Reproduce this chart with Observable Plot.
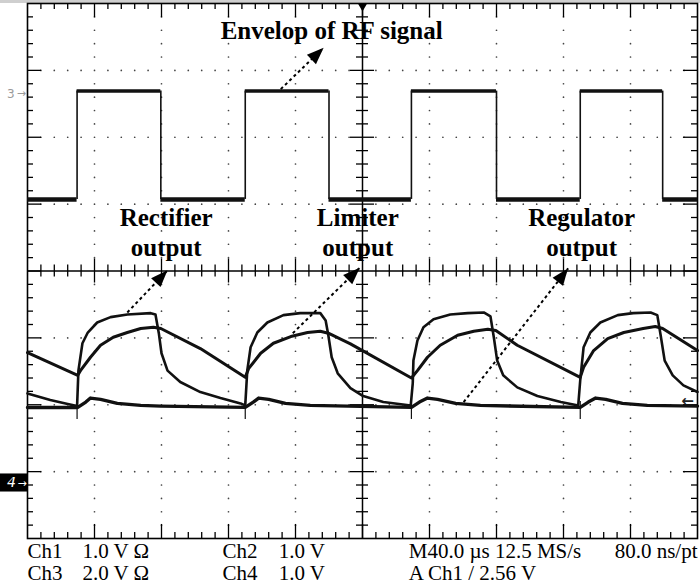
<!DOCTYPE html>
<html>
<head>
<meta charset="utf-8">
<script src="https://cdn.jsdelivr.net/npm/d3@7"></script>
<script src="https://cdn.jsdelivr.net/npm/@observablehq/plot@0.6"></script>
<style>
  html, body { margin: 0; padding: 0; background: #fff; }
  #chart { width: 700px; height: 584px; overflow: hidden; }
  #chart svg { display: block; background: #fff; }
</style>
</head>
<body>
<div id="chart"></div>
<script>
// ---------------- DATA (time in 40 µs divisions, amplitude in vertical divisions) ----------------
// Envelope of RF signal (square wave)
const envelopeLevels = [1.07, 2.69];               // low, high
const envelopeRise = [0.74, 3.25, 5.73, 8.25];
const envelopeFall = [1.99, 4.50, 7.00, 9.48];

// Rectifier output [t, v]
const rectifier = [
  [0.00,-1.22],[0.75,-1.56],[0.79,-1.49],[0.94,-1.29],[1.09,-1.11],[1.28,-0.99],[1.49,-0.92],
  [1.69,-0.86],[1.88,-0.84],[1.99,-0.86],[2.58,-1.16],[3.25,-1.59],[3.30,-1.46],[3.48,-1.23],
  [3.67,-1.08],[3.93,-0.98],[4.18,-0.92],[4.37,-0.90],[4.49,-0.93],[4.82,-1.09],[5.73,-1.60],
  [5.82,-1.49],[5.97,-1.29],[6.16,-1.11],[6.42,-0.96],[6.66,-0.90],[6.87,-0.87],[6.99,-0.89],
  [7.31,-1.11],[8.25,-1.59],[8.30,-1.44],[8.45,-1.19],[8.66,-1.01],[8.90,-0.92],[9.19,-0.86],
  [9.37,-0.83],[9.48,-0.86],[10.00,-1.19]
];

// Limiter output [t, v]
const limiter = [
  [0.00,-1.83],[0.34,-1.93],[0.60,-1.99],[0.74,-2.02],[0.76,-1.49],[0.82,-1.08],[0.90,-0.92],
  [1.04,-0.77],[1.24,-0.69],[1.49,-0.65],[1.84,-0.63],[1.91,-0.65],[1.96,-0.93],[2.00,-1.23],
  [2.09,-1.49],[2.28,-1.66],[2.58,-1.81],[2.88,-1.90],[3.18,-1.98],[3.25,-2.01],[3.28,-1.49],
  [3.33,-1.14],[3.43,-0.92],[3.58,-0.77],[3.82,-0.66],[4.07,-0.63],[4.37,-0.63],[4.45,-0.74],
  [4.49,-0.96],[4.54,-1.29],[4.63,-1.53],[4.82,-1.75],[5.01,-1.87],[5.31,-1.96],[5.72,-2.01],
  [5.75,-1.68],[5.76,-1.34],[5.82,-1.04],[5.91,-0.84],[6.06,-0.72],[6.31,-0.65],[6.57,-0.63],
  [6.81,-0.62],[6.91,-0.68],[6.96,-0.99],[7.01,-1.34],[7.10,-1.56],[7.31,-1.74],[7.61,-1.87],
  [7.96,-1.96],[8.22,-2.01],[8.25,-1.63],[8.30,-1.14],[8.40,-0.92],[8.55,-0.77],[8.81,-0.66],
  [9.04,-0.63],[9.30,-0.62],[9.40,-0.66],[9.45,-0.96],[9.51,-1.34],[9.63,-1.56],[9.79,-1.71],
  [10.00,-1.81]
];

// Regulator output [t, v]
const regulator = [
  [0.00,-2.04],[0.75,-2.04],[0.87,-1.96],[0.94,-1.90],[1.09,-1.92],[1.34,-1.98],[1.69,-2.01],
  [1.99,-2.02],[3.25,-2.04],[3.37,-1.96],[3.45,-1.90],[3.60,-1.92],[3.85,-1.98],[4.22,-2.01],
  [5.73,-2.04],[5.85,-1.96],[5.97,-1.90],[6.12,-1.92],[6.39,-1.98],[6.76,-2.01],[8.25,-2.04],
  [8.37,-1.96],[8.48,-1.90],[8.63,-1.92],[8.88,-1.98],[9.25,-2.01],[10.00,-2.02]
];

// Annotation texts
const annotationLabels = ["Envelop of RF signal", "Rectifier\noutput", "Limiter\noutput", "Regulator\noutput"];
// Arrow tails and tips [t, v]
const arrowTails = [[3.78, 2.72], [1.49, -0.62], [3.96, -0.93], [6.51, -1.96]];
const arrowTips  = [[4.42, 3.34], [2.09, 0.01], [4.96, 0.05], [8.07, 0.04]];

// Channel ground markers
const channelMarkers = [{label: "3", level: 2.65}, {label: "4", level: -3.17}];
const triggerLevel = -1.95;

// Readout text
const readoutRow1 = ["Ch1", "1.0 V \u03A9", "Ch2", "1.0 V", "M40.0 \u00B5s 12.5 MS/s"];
const readoutRow2 = ["Ch3", "2.0 V \u03A9", "Ch4", "1.0 V", "A Ch1 / 2.56 V"];
const readoutRight = ["80.0 ns/pt"];

// ---------------- LAYOUT ----------------
const labelPos = [[4.54, 3.47], [2.07, 0.23], [4.93, 0.23], [8.27, 0.23]];
const readoutCols = [0, 0.82, 2.91, 3.75, 5.69];
const readoutRows = [-4.29, -4.62];
const readoutRightEnd = 10.0;

const minorT = d3.range(0, 51).map(i => i / 5);
const minorV = d3.range(-20, 21).map(i => i / 5);
const isMajor = d => Math.abs(d - Math.round(d)) < 1e-9;
const edgeLen = d => isMajor(d) ? 0.21 : 0.09;
const crossLen = d => isMajor(d) ? 0.18 : 0.09;

const innerT = minorT.filter(t => t > 0.01 && t < 9.99);
const innerV = minorV.filter(v => v > -3.99 && v < 3.99);

const gridT = [1, 2, 3, 4, 6, 7, 8, 9];
const gridV = [-3, -2, -1, 1, 2, 3];
const gridDots = [
  ...gridT.flatMap(t => innerV.filter(v => Math.abs(v) > 0.01).map(v => [t, v])),
  ...gridV.flatMap(v => innerT.filter(t => Math.abs(t - 5) > 0.01 && !gridT.includes(t)).map(t => [t, v]))
];

const [envLow, envHigh] = envelopeLevels;
const lowSegs = [[0, envelopeRise[0]], ...envelopeFall.map((f, i) => [f, envelopeRise[i + 1] ?? 10])];
const highSegs = envelopeRise.map((r, i) => [r, envelopeFall[i]]);

const arrows = arrowTails.map((a, i) => ({x1: a[0], y1: a[1], x2: arrowTips[i][0], y2: arrowTips[i][1]}));

const arrowHead = {
  draw(ctx) {
    ctx.moveTo(0, 0);
    ctx.lineTo(-6.5, 17);
    ctx.lineTo(6.5, 17);
    ctx.closePath();
  }
};

const serif = "'Liberation Serif', 'Times New Roman', serif";
const ink = "#111";

const readout = [];
[readoutRow1, readoutRow2].forEach((row, r) => row.forEach((s, c) => {
  if (s) readout.push({s, x: readoutCols[c], y: readoutRows[r]});
}));

const chart = Plot.plot({
  width: 700,
  height: 584,
  marginLeft: 27,
  marginRight: 3,
  marginTop: 3,
  marginBottom: 46,
  x: {domain: [0, 10], axis: null},
  y: {domain: [-4, 4], axis: null},
  marks: [
    // gray strip above screen
    Plot.ruleY([4], {x1: -0.41, x2: 10.05, dy: -2, stroke: "#cfcfcf", strokeWidth: 3}),
    // dotted graticule
    Plot.dot(gridDots, {x: d => d[0], y: d => d[1], r: 0.85, fill: "#444"}),
    // centre cross
    Plot.ruleY([0], {x1: 0, x2: 10, stroke: "#000", strokeWidth: 1.5}),
    Plot.ruleX([5], {y1: -4, y2: 4, stroke: "#000", strokeWidth: 1.5}),
    Plot.ruleX(innerT.filter(t => Math.abs(t - 5) > 0.01), {x: d => d, y1: d => -crossLen(d), y2: d => crossLen(d), stroke: "#000", strokeWidth: 1.3}),
    Plot.ruleY(innerV.filter(v => Math.abs(v) > 0.01), {y: d => d, x1: d => 5 - crossLen(d), x2: d => 5 + crossLen(d), stroke: "#000", strokeWidth: 1.3}),
    // border ticks
    Plot.ruleY(innerV, {y: d => d, x1: 0, x2: d => edgeLen(d), stroke: "#000", strokeWidth: 1.3}),
    Plot.ruleY(innerV, {y: d => d, x1: d => 10 - edgeLen(d), x2: 10, stroke: "#000", strokeWidth: 1.3}),
    Plot.ruleX(innerT, {x: d => d, y1: 4, y2: d => 4 - edgeLen(d), stroke: "#000", strokeWidth: 1.3}),
    Plot.ruleX(innerT, {x: d => d, y1: -4, y2: d => -4 + edgeLen(d), stroke: "#000", strokeWidth: 1.3}),
    Plot.frame({stroke: "#000", strokeWidth: 1.6}),

    // envelope trace
    Plot.ruleY(lowSegs, {x1: d => d[0], x2: d => d[1], y: envLow, stroke: ink, strokeWidth: 4.5}),
    Plot.ruleY(highSegs, {x1: d => d[0], x2: d => d[1], y: envHigh, stroke: ink, strokeWidth: 3.5}),
    Plot.ruleX([...envelopeRise, ...envelopeFall], {x: d => d, y1: envLow, y2: envHigh, stroke: ink, strokeWidth: 1.6}),

    // lower traces
    Plot.ruleX(envelopeRise, {x: d => d, y1: -2.22, y2: -1.95, stroke: ink, strokeWidth: 1.2}),
    Plot.line(regulator, {x: d => d[0], y: d => d[1], stroke: ink, strokeWidth: 3.4, strokeLinejoin: "round"}),
    Plot.line(rectifier, {x: d => d[0], y: d => d[1], stroke: ink, strokeWidth: 3, strokeLinejoin: "round"}),
    Plot.line(limiter, {x: d => d[0], y: d => d[1], stroke: ink, strokeWidth: 2.6, strokeLinejoin: "round"}),

    // arrows (dashed shaft + filled head)
    Plot.link(arrows, {x1: "x1", y1: "y1", x2: "x2", y2: "y2", stroke: "#000", strokeWidth: 2, strokeDasharray: "3,3"}),
    Plot.dot(arrows, {x: "x2", y: "y2", symbol: arrowHead, r: 5, fill: "#000",
      rotate: d => Math.atan2(d.x2 - d.x1, d.y2 - d.y1) * 180 / Math.PI}),

    // annotation labels
    Plot.text(annotationLabels.map((s, i) => ({s, x: labelPos[i][0], y: labelPos[i][1]})), {
      x: "x", y: "y", text: "s", fontFamily: serif, fontWeight: "bold", fontSize: 25,
      lineAnchor: "bottom", lineHeight: 1.2, textAnchor: "middle", fill: "#000"
    }),

    // channel markers
    Plot.text(channelMarkers.slice(0, 1), {x: -0.25, y: "level", text: "label", fill: "#9a9a9a", fontSize: 12, fontFamily: "DejaVu Sans"}),
    Plot.text(channelMarkers.slice(0, 1), {x: -0.09, y: "level", text: () => "\u2192", fill: "#9a9a9a", fontSize: 11, fontFamily: "DejaVu Sans"}),
    Plot.rect(channelMarkers.slice(1), {x1: -0.41, x2: 0, y1: d => d.level + 0.135, y2: d => d.level - 0.135, fill: "#000"}),
    Plot.text(channelMarkers.slice(1), {x: -0.24, y: "level", text: "label", fill: "#fff", fontSize: 14, fontStyle: "italic", fontFamily: "DejaVu Sans"}),
    Plot.text(channelMarkers.slice(1), {x: -0.08, y: "level", text: () => "\u2192", fill: "#fff", fontSize: 11, fontFamily: "DejaVu Sans"}),
    // trigger position & level markers
    Plot.dot([5], {x: d => d, y: 4, dy: 3, symbol: "triangle", rotate: 180, r: 3.2, fill: "#000"}),
    Plot.text([triggerLevel], {x: 10, y: d => d, dx: -10, text: () => "\u2190", fill: "#222", fontSize: 15, fontWeight: "bold", fontFamily: "DejaVu Sans"}),

    // readout
    Plot.text(readout, {x: "x", y: "y", text: "s", textAnchor: "start", lineAnchor: "bottom",
      fontFamily: serif, fontSize: 21, fill: "#000"}),
    Plot.text(readoutRight, {x: readoutRightEnd, y: readoutRows[0], text: d => d, textAnchor: "end", lineAnchor: "bottom",
      fontFamily: serif, fontSize: 21, fill: "#000"})
  ]
});

document.getElementById("chart").appendChild(chart);
</script>
</body>
</html>
